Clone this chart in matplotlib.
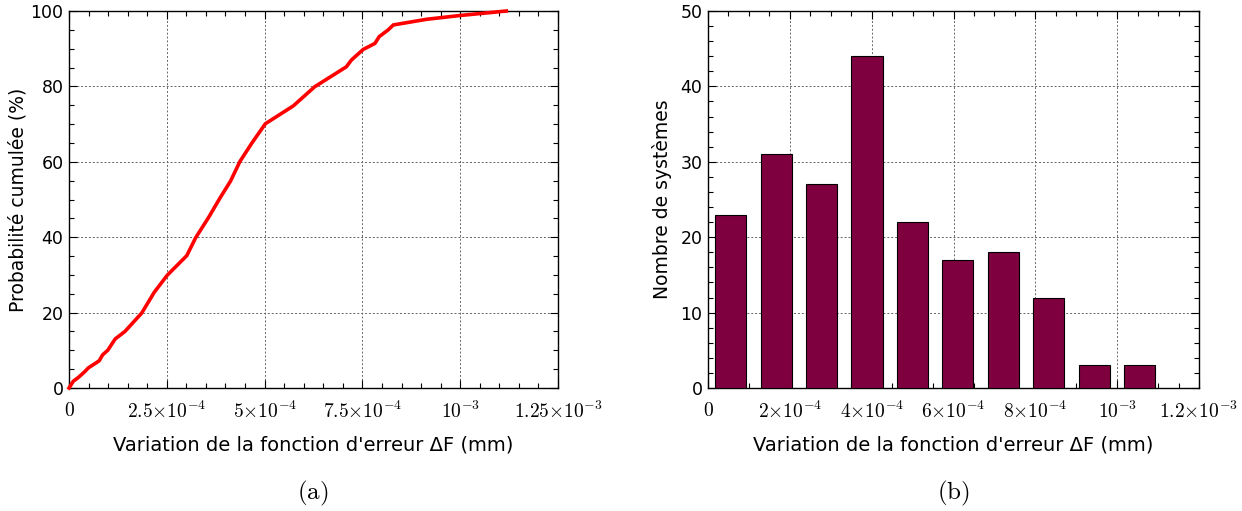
import matplotlib
matplotlib.use("Agg")
import matplotlib.pyplot as plt
from matplotlib.ticker import FixedLocator, MultipleLocator, FixedFormatter

# ---- data ----
cum_x = [0, 1.1e-5, 2.4e-5, 4.1e-5, 4.9e-5, 7.7e-5, 8.6e-5, 9.9e-5, 1.18e-4, 1.43e-4,
         1.86e-4, 2.18e-4, 2.51e-4, 3.01e-4, 3.24e-4, 3.56e-4, 3.86e-4, 4.13e-4, 4.37e-4,
         4.67e-4, 5.02e-4, 5.73e-4, 6.28e-4, 7.09e-4, 7.22e-4, 7.52e-4, 7.82e-4, 7.93e-4,
         8.16e-4, 8.29e-4, 9.14e-4, 9.99e-4, 1.118e-3]
cum_y = [0, 1.8, 2.8, 4.4, 5.3, 7.2, 8.8, 10.0, 13.0, 15.0,
         19.9, 25.4, 29.9, 35.1, 39.9, 45.1, 50.4, 54.9, 60.1,
         64.9, 70.1, 74.8, 79.9, 85.2, 87.0, 89.8, 91.4, 93.2,
         95.0, 96.3, 97.8, 98.8, 100]

bin_centers = [5.55e-5, 1.665e-4, 2.775e-4, 3.885e-4, 4.995e-4, 6.105e-4,
               7.215e-4, 8.325e-4, 9.435e-4, 1.0545e-3]
counts = [23, 31, 27, 44, 22, 17, 18, 12, 3, 3]
bar_width = 7.6e-5

left_xticks = [0, 2.5e-4, 5e-4, 7.5e-4, 1e-3, 1.25e-3]
left_xlabels = [r"$0$", r"$2.5{\times}10^{-4}$", r"$5{\times}10^{-4}$",
                r"$7.5{\times}10^{-4}$", r"$10^{-3}$", r"$1.25{\times}10^{-3}$"]
right_xticks = [0, 2e-4, 4e-4, 6e-4, 8e-4, 1e-3, 1.2e-3]
right_xlabels = [r"$0$", r"$2{\times}10^{-4}$", r"$4{\times}10^{-4}$", r"$6{\times}10^{-4}$",
                 r"$8{\times}10^{-4}$", r"$10^{-3}$", r"$1.2{\times}10^{-3}$"]

xlabel = "Variation de la fonction d'erreur ΔF (mm)"

plt.rcParams['mathtext.fontset'] = 'cm'
plt.rcParams['font.family'] = ['DejaVu Sans']

W, H = 1242, 511
fig = plt.figure(figsize=(W / 100, H / 100), dpi=100)

def setup(ax, xticks, xlabels, xminor, ymajor, yminor, ylim, xlim):
    ax.set_xlim(*xlim)
    ax.set_ylim(*ylim)
    ax.xaxis.set_major_locator(FixedLocator(xticks))
    ax.xaxis.set_major_formatter(FixedFormatter(xlabels))
    ax.xaxis.set_minor_locator(MultipleLocator(xminor))
    ax.yaxis.set_major_locator(MultipleLocator(ymajor))
    ax.yaxis.set_minor_locator(MultipleLocator(yminor))
    ax.tick_params(which='both', direction='in', top=True, right=True, labelsize=12.5)
    ax.tick_params(which='major', length=6, width=0.8)
    ax.tick_params(which='minor', length=3.5, width=0.8)
    ax.tick_params(axis='x', which='major', pad=9, labelsize=14)
    ax.tick_params(axis='y', which='major', pad=4)
    ax.grid(True, which='major', linestyle=(0, (2, 2)), color='#666666', linewidth=0.7)
    ax.set_axisbelow(True)
    for s in ax.spines.values():
        s.set_linewidth(1.0)
    ax.set_xlabel(xlabel, fontsize=14, labelpad=10)

ax1 = fig.add_axes([69 / W, 1 - 388 / H, 489 / W, 377 / H])
ax1.plot(cum_x, cum_y, color='#ff0000', linewidth=2.6, clip_on=False, zorder=3)
setup(ax1, left_xticks, left_xlabels, 0.5e-4, 20, 5, (0, 100), (0, 1.25e-3))
ax1.set_ylabel("Probabilité cumulée (%)", fontsize=13.5, labelpad=2)

ax2 = fig.add_axes([708 / W, 1 - 388 / H, 491 / W, 377 / H])
ax2.bar(bin_centers, counts, width=bar_width, color='#7f003f', edgecolor='black',
        linewidth=0.8, zorder=3)
setup(ax2, right_xticks, right_xlabels, 0.5e-4, 10, 2, (0, 50), (0, 1.2e-3))
ax2.set_ylabel("Nombre de systèmes", fontsize=13.5, labelpad=6)

fig.text(313 / W, 1 - 493 / H, r"$(\mathrm{a})$", ha='center', va='center', fontsize=18)
fig.text(953 / W, 1 - 493 / H, r"$(\mathrm{b})$", ha='center', va='center', fontsize=18)

fig.savefig("out.png", dpi=100)
